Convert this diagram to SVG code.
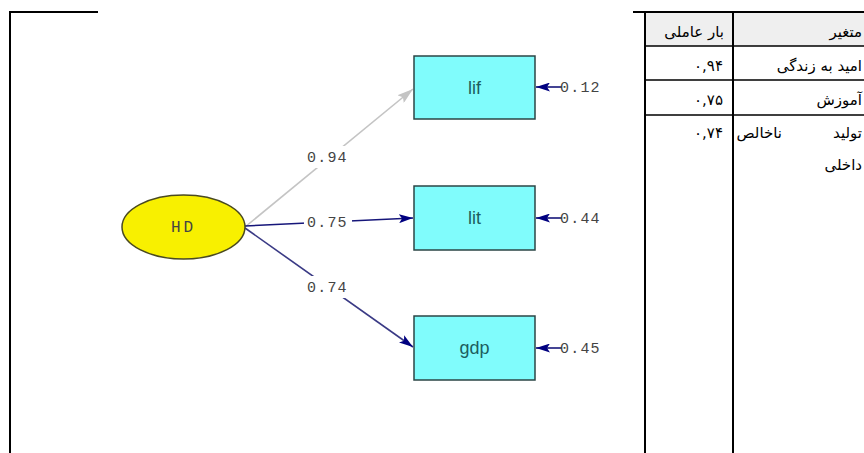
<svg xmlns="http://www.w3.org/2000/svg" width="864" height="453" viewBox="0 0 864 453">
<defs>
<style>
.frame{stroke:#000;stroke-width:2;fill:none}
.row{stroke:#000;stroke-width:1.5}
.box{fill:#80fcfc;stroke:#2b4545;stroke-width:1.5}
.boxt{font-family:"Liberation Sans",Arial,sans-serif;font-size:18px;fill:#1d5e5e;text-anchor:middle}
.lbl{font-family:"Liberation Mono","Courier New",monospace;font-size:15px;fill:#444;letter-spacing:1.2px}
.fa{font-family:"DejaVu Sans",sans-serif;font-size:15px;fill:#000;text-anchor:end}
.nav{stroke:#16167a;stroke-width:1.6;fill:none}
.bg{fill:#fff}
</style>
<marker id="an" viewBox="0 0 14 9" refX="14" refY="4.5" markerWidth="14" markerHeight="9" markerUnits="userSpaceOnUse" orient="auto">
<path d="M0,0 L14,4.5 L0,9 L3,4.5 Z" fill="#000080"/>
</marker>
<marker id="ag" viewBox="0 0 16 10" refX="16" refY="5" markerWidth="16" markerHeight="10" markerUnits="userSpaceOnUse" orient="auto">
<path d="M0,0 L16,5 L0,10 L3,5 Z" fill="#c4c4c4"/>
</marker>
</defs>
<rect width="864" height="453" fill="#fff"/>
<g id="frame">
<path class="frame" d="M10,453 V12 H98"/>
</g>
<g id="table">
<rect x="645" y="13" width="219" height="33" fill="#efefef"/>
<path class="frame" d="M633,12 H864 M645,12 V453 M733,12 V453"/>
<path class="row" d="M645,46 H864 M645,80 H864 M645,115 H864"/>
<text class="fa" x="724" y="37">بار عاملی</text>
<text class="fa" x="723" y="71">۰,۹۴</text>
<text class="fa" x="723" y="105">۰,۷۵</text>
<text class="fa" x="723" y="138">۰,۷۴</text>
<text class="fa" x="862" y="37">متغیر</text>
<text class="fa" x="862" y="71">امید به زندگی</text>
<text class="fa" x="862" y="105">آموزش</text>
<text class="fa" x="782" y="138">ناخالص</text>
<text class="fa" x="862" y="138">تولید</text>
<text class="fa" x="862" y="170">داخلی</text>
</g>
<g id="connectors">
<line x1="245" y1="227" x2="413" y2="89" stroke="#c4c4c4" stroke-width="1.6" marker-end="url(#ag)"/>
<line class="nav" x1="245" y1="226" x2="413" y2="218" marker-end="url(#an)"/>
<line x1="245" y1="228" x2="413" y2="347" stroke="#3a3a85" stroke-width="1.6" marker-end="url(#an)"/>
<line class="nav" x1="562" y1="87" x2="536" y2="87" marker-end="url(#an)"/>
<line class="nav" x1="562" y1="218" x2="536" y2="218" marker-end="url(#an)"/>
<line class="nav" x1="562" y1="348" x2="536" y2="348" marker-end="url(#an)"/>
<rect class="bg" x="304" y="146" width="48" height="22"/>
<rect class="bg" x="304" y="211" width="48" height="22"/>
<rect class="bg" x="304" y="276" width="48" height="22"/>
<text class="lbl" x="307" y="162">0.94</text>
<text class="lbl" x="307" y="227">0.75</text>
<text class="lbl" x="307" y="292">0.74</text>
<text class="lbl" x="560" y="92">0.12</text>
<text class="lbl" x="560" y="223">0.44</text>
<text class="lbl" x="560" y="353">0.45</text>
</g>
<g id="HD">
<ellipse cx="183.5" cy="227" rx="61.5" ry="32" fill="#f8f000" stroke="#4a4a20" stroke-width="1.5"/>
<text x="183.5" y="232" font-family="Liberation Mono,Courier New,monospace" font-size="16" fill="#444" text-anchor="middle" letter-spacing="3">HD</text>
</g>
<g id="lif">
<rect class="box" x="414" y="56" width="121" height="63"/>
<text class="boxt" x="474.5" y="94">lif</text>
</g>
<g id="lit">
<rect class="box" x="414" y="186" width="121" height="64"/>
<text class="boxt" x="474.5" y="224">lit</text>
</g>
<g id="gdp">
<rect class="box" x="414" y="316" width="121" height="64"/>
<text class="boxt" x="474.5" y="354">gdp</text>
</g>
</svg>
